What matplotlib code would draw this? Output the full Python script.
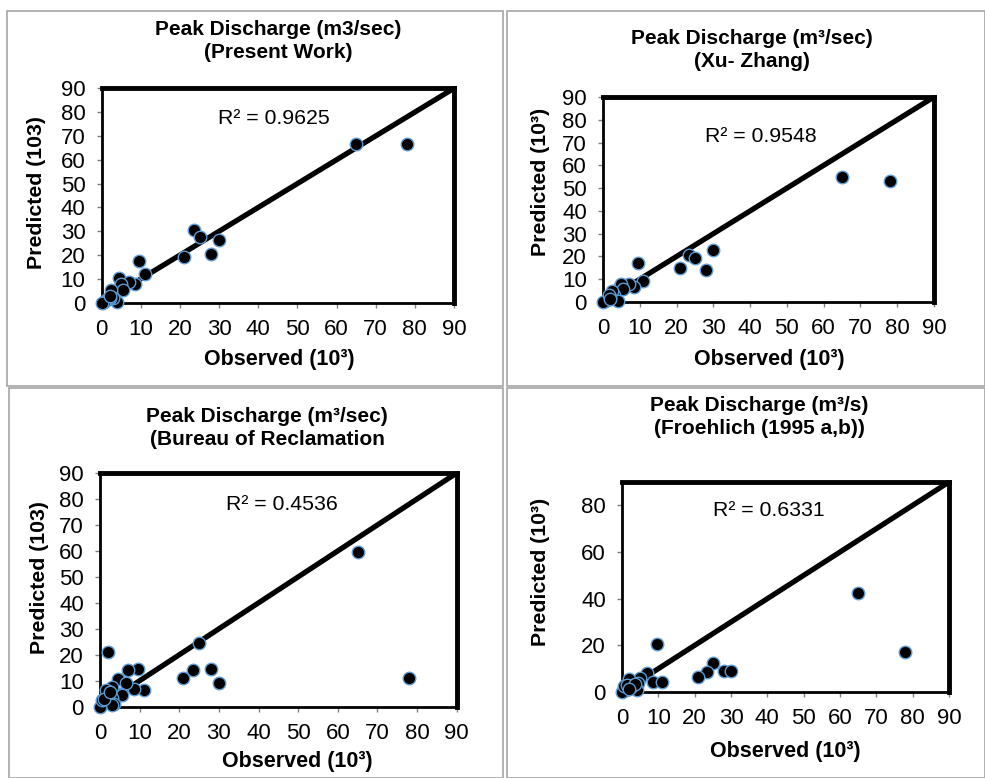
import matplotlib
matplotlib.use("Agg")
import matplotlib.pyplot as plt
from matplotlib.patches import Rectangle

plt.rcParams['font.family'] = ['Liberation Sans', 'DejaVu Sans']

W, H = 985, 778

# ---- data (Observed, Predicted) in 10^3 m3/s ----
obs_present = [65, 78, 23.5, 25, 30, 28, 21, 9.5, 11, 4.5, 8.5, 7, 5, 5.5, 2.5, 4, 3, 2, 1.5, 1, 0.5, 0, 2]
pred_present = [66.5, 66.5, 30.5, 27.5, 26.5, 20.5, 19, 17.5, 12, 10.5, 8, 8.5, 8, 5.5, 5.5, 0.5, 2, 2, 1.5, 1, 0.5, 0, 3]

obs_xu = [65, 78, 30, 23.5, 25, 21, 28, 9.5, 11, 8.5, 7, 4.5, 5, 5.5, 3, 2.5, 4, 2, 1, 0.5, 0, 1.5, 2]
pred_xu = [55, 53, 23, 20.5, 19.5, 15, 14, 17, 9, 6.5, 8, 7, 8, 5.5, 3, 5, 0.5, 2, 1, 0.5, 0, 3, 1.5]

obs_bureau = [65, 78, 25, 28, 23.5, 21, 30, 9.5, 7, 11, 8.5, 4.5, 6.5, 5, 5.5, 2, 3, 2, 1.5, 2.5, 3, 3.5, 3, 0, 0.5, 1, 2.5]
pred_bureau = [59.5, 11, 24.5, 14.5, 14, 11, 9, 14.5, 14, 6.5, 7, 10.5, 9, 5, 4.5, 21, 7.5, 6, 6.5, 4, 3.5, 1, 0.5, 0, 2.5, 3, 5.5]

obs_froehlich = [65, 78, 9.5, 25, 23.5, 21, 28, 30, 7, 8.5, 11, 5, 4.5, 2, 3, 4, 2.5, 1, 0, 0.5, 1.5, 3.5, 2]
pred_froehlich = [42.5, 17, 20.5, 12.5, 8.5, 6.5, 9, 9, 8, 4.5, 4.5, 6, 4, 5.5, 3, 1, 2, 1, 0, 2.5, 3, 3.5, 1.5]

r2_values = ["0.9625", "0.9548", "0.4536", "0.6331"]
titles = ["Peak Discharge (m3/sec)\n(Present Work)",
          "Peak Discharge (m\u00b3/sec)\n(Xu- Zhang)",
          "Peak Discharge (m\u00b3/sec)\n(Bureau of Reclamation",
          "Peak Discharge (m\u00b3/s)\n(Froehlich (1995 a,b))"]
ylabels = ["Predicted (103)", "Predicted (10\u00b3)", "Predicted (103)", "Predicted (10\u00b3)"]
xlabel = "Observed (10\u00b3)"
xticks = [0, 10, 20, 30, 40, 50, 60, 70, 80, 90]
yticks_list = [xticks, xticks, xticks, [0, 20, 40, 60, 80]]

# ---- layout (pixels) ----
axes_px = [(101.7, 454, 88.3, 302.7),
           (603, 934, 97, 302),
           (100, 456.7, 473, 706.7),
           (622, 949, 482, 692)]
title_px = [(278, 41), (752, 50), (267, 428), (759, 417)]
ylab_px = [(37, 193), (540, 182), (40, 578), (540, 572)]
xlab_px = [(279, 360), (769, 360), (297, 761), (785, 751)]
r2_px = [(274, 118), (761, 136), (282, 504), (769, 510)]
cells = [(7, 11, 503, 386), (507, 11, 985, 386), (9, 388, 503, 778), (507, 388, 985, 778)]

fig = plt.figure(figsize=(W / 100, H / 100), dpi=100)

for (x0, y0, x1, y1) in cells:
    fig.patches.append(Rectangle((x0 / W, 1 - y1 / H), (x1 - x0) / W, (y1 - y0) / H,
                                 transform=fig.transFigure, fill=False,
                                 edgecolor='#a6a6a6', linewidth=1.2))

data = [(obs_present, pred_present), (obs_xu, pred_xu),
        (obs_bureau, pred_bureau), (obs_froehlich, pred_froehlich)]

for i, (xs, ys) in enumerate(data):
    l, r, t, b = axes_px[i]
    ax = fig.add_axes([l / W, 1 - b / H, (r - l) / W, (b - t) / H])
    ax.set_xlim(0, 90)
    ax.set_ylim(0, 90)
    ax.plot([0, 90], [0, 90], color='black', linewidth=3.8, solid_capstyle='butt', zorder=2)
    ax.plot(xs, ys, linestyle='none', marker='o', markersize=9,
            markerfacecolor='black', markeredgecolor='#5b9bd5', markeredgewidth=1.0,
            clip_on=False, zorder=3)
    ax.set_xticks(xticks)
    ax.set_yticks(yticks_list[i])
    ax.tick_params(direction='out', length=3.6, width=1, color='#808080',
                   labelsize=16, pad=8)
    for s in ['left', 'bottom']:
        ax.spines[s].set_linewidth(2.0)
    for s in ['top', 'right']:
        ax.spines[s].set_linewidth(3.5)
    for s in ax.spines.values():
        s.set_color('black')
    # labels
    ax.set_xlabel(xlabel, fontsize=15.5, fontweight='bold')
    ax.set_ylabel(ylabels[i], fontsize=15.3, fontweight='bold')
    xl, yl = xlab_px[i]
    ax.xaxis.set_label_coords((xl - l) / (r - l), (b - yl) / (b - t))
    ax.xaxis.label.set_verticalalignment('center')
    xl, yl = ylab_px[i]
    ax.yaxis.set_label_coords((xl - l) / (r - l), (b - yl) / (b - t))
    ax.yaxis.label.set_verticalalignment('center')
    tx, ty = title_px[i]
    ax.set_title(titles[i], fontsize=15, fontweight='bold', linespacing=1.3, pad=0,
                 x=(tx - l) / (r - l), y=(b - ty) / (b - t), va='center')
    rx, ry = r2_px[i]
    ax.text((rx - l) / (r - l), (b - ry) / (b - t), "R\u00b2 = " + r2_values[i],
            transform=ax.transAxes, ha='center', va='center', fontsize=15.3)

fig.savefig("out.png", dpi=100)
